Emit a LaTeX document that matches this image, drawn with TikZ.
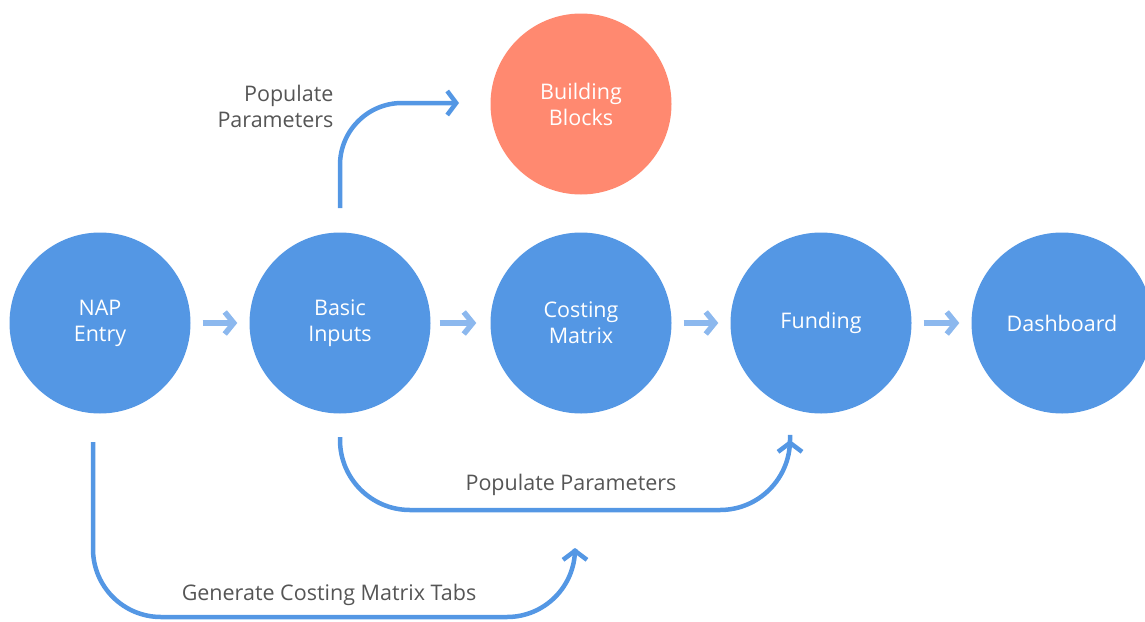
\documentclass[tikz,border=0pt]{standalone}
\usepackage{fontspec}
\setmainfont{Open Sans}
\usetikzlibrary{arrows.meta}
\definecolor{cblue}{RGB}{84,151,228}
\definecolor{corange}{RGB}{255,137,112}
\definecolor{clight}{RGB}{140,184,238}
\definecolor{ctext}{RGB}{85,85,85}
\begin{document}
\begin{tikzpicture}[x=1pt,y=-1pt,
  stage/.style={circle,fill=cblue,minimum size=181pt,inner sep=0pt,text=white,font=\fontsize{21.5}{26}\selectfont,align=center},
  flowarrow/.style={draw=clight,line width=5.5pt,-{Straight Barb[length=9pt,width=22pt,line width=5.5pt]}},
  link/.style={draw=cblue,line width=4.5pt,-{Straight Barb[length=9pt,width=24pt,line width=4.5pt]}},
  lbl/.style={text=ctext,font=\fontsize{21.5}{26}\selectfont}]
\useasboundingbox (0,0) rectangle (1145,621);
\node[stage] (nap) at (100,323) {NAP\\Entry};
\node[stage] (basic) at (340,323) {Basic\\Inputs};
\node[stage] (cost) at (581,323) {Costing\\Matrix};
\node[stage] (fund) at (821,323) {Funding};
\node[stage] (dash) at (1062,323) {Dashboard};
\node[stage,fill=corange] (bb) at (581,104) {Building\\Blocks};
% small arrows
\draw[flowarrow] ([xshift=12pt]nap.east) -- ([xshift=-12pt]basic.west);
\draw[flowarrow] ([xshift=9pt]basic.east) -- ([xshift=-14pt]cost.west);
\draw[flowarrow] ([xshift=12pt]cost.east) -- ([xshift=-12pt]fund.west);
\draw[flowarrow] ([xshift=12pt]fund.east) -- ([xshift=-12pt]dash.west);
% connectors
\coordinate (bt) at (340,208);
\coordinate (bbin) at (459,103);
\draw[link,rounded corners=62pt] (bt) -- (340,103) -- (bbin);
\coordinate (bs) at (340,437);
\coordinate (fin) at (790,440);
\draw[link,rounded corners=70pt] (bs) -- (340,510) -- (790,510) -- (fin);
\coordinate (ns) at (93,442);
\coordinate (cin) at (575,548);
\draw[link,rounded corners=68pt] (ns) -- (93,617) -- (575,617) -- (cin);
% labels
\node[lbl,align=right,anchor=east] (l1) at (337,106) {Populate\\Parameters};
\node[lbl] (l2) at (571,485) {Populate Parameters};
\node[lbl] (l3) at (329,595) {Generate Costing Matrix Tabs};
\end{tikzpicture}
\end{document}
